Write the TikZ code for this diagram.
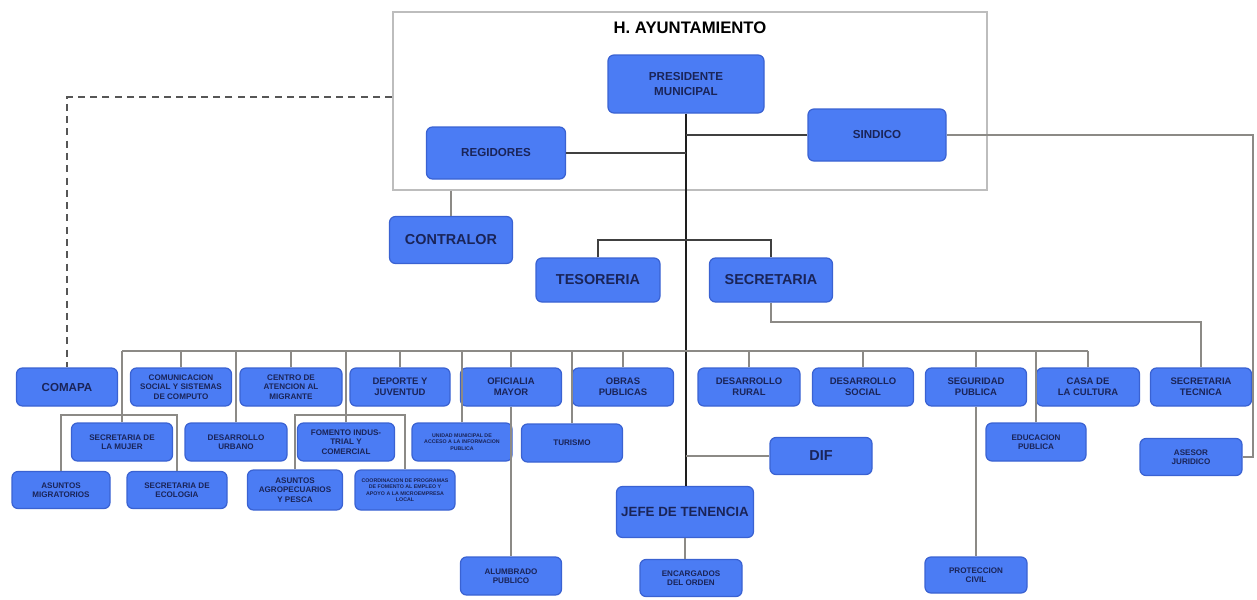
\documentclass[tikz,border=0pt]{standalone}
\usepackage{fontspec}
\setmainfont{Liberation Sans}
\usepackage{xcolor}
\definecolor{BoxBlue}{HTML}{4B7CF4}
\definecolor{BoxEdge}{HTML}{3A62D2}
\definecolor{LabelInk}{HTML}{1A2458}
\definecolor{Ink}{HTML}{1E1E1E}
\definecolor{LineGray}{HTML}{8C8A86}
\definecolor{FrameGray}{HTML}{BDBDBD}

\begin{document}
\begin{tikzpicture}[x=0.02cm,y=-0.02cm,
  unit/.style={draw=BoxEdge,fill=BoxBlue,rounded corners=3.4pt,line width=0.7pt,inner sep=1pt,align=center,text=LabelInk,font=\bfseries\fontsize{5.4}{6.2}\selectfont},
  big/.style={font=\bfseries\fontsize{8.2}{9.5}\selectfont},
  mid/.style={font=\bfseries\fontsize{6.6}{8}\selectfont},
  small/.style={font=\bfseries\fontsize{4.6}{5.3}\selectfont},
  tiny/.style={font=\bfseries\fontsize{3}{3.7}\selectfont},
  wh/.style 2 args={minimum width=#1*0.02cm,minimum height=#2*0.02cm},
  link/.style={LineGray,line width=0.7pt},
  trunk/.style={Ink!85,line width=1.1pt},
  spine/.style={Ink,line width=1.5pt},
  dashlink/.style={Ink!75,line width=1.4pt,dash pattern=on 4pt off 3pt}]
\useasboundingbox (0,0) rectangle (1257,599);

% H. Ayuntamiento
\node[draw=FrameGray,line width=0.8pt,wh={594}{178}] (ayto) at (690,101) {};
\node[font=\bfseries\fontsize{9.5}{11}\selectfont] (titulo) at (690,28) {H. AYUNTAMIENTO};
\node[unit,mid,wh={156}{58}] (pres) at (686,84) {PRESIDENTE\\MUNICIPAL};
\node[unit,mid,wh={138}{52}] (sind) at (877,135) {SINDICO};
\node[unit,mid,wh={139}{52}] (regi) at (496,153) {REGIDORES};
\node[unit,big,wh={123}{47}] (contr) at (451,240) {CONTRALOR};
\node[unit,big,wh={124}{44}] (teso) at (598,280) {TESORERIA};
\node[unit,big,wh={123}{44}] (secr) at (771,280) {SECRETARIA};

% direcciones
\node[unit,mid,wh={101}{38}] (comapa) at (67,387) {COMAPA};
\node[unit,small,wh={101}{38}] (comu) at (181,387) {COMUNICACION\\SOCIAL Y SISTEMAS\\DE COMPUTO};
\node[unit,small,wh={102}{38}] (cam) at (291,387) {CENTRO DE\\ATENCION AL\\MIGRANTE};
\node[unit,wh={100}{38}] (depo) at (400,387) {DEPORTE Y\\JUVENTUD};
\node[unit,wh={101}{38}] (ofic) at (511,387) {OFICIALIA\\MAYOR};
\node[unit,wh={101}{38}] (obras) at (623,387) {OBRAS\\PUBLICAS};
\node[unit,wh={102}{38}] (drur) at (749,387) {DESARROLLO\\RURAL};
\node[unit,wh={101}{38}] (dsoc) at (863,387) {DESARROLLO\\SOCIAL};
\node[unit,wh={101}{38}] (segu) at (976,387) {SEGURIDAD\\PUBLICA};
\node[unit,wh={103}{38}] (casa) at (1088,387) {CASA DE\\LA CULTURA};
\node[unit,wh={101}{38}] (stec) at (1201,387) {SECRETARIA\\TECNICA};

% segundo nivel
\node[unit,small,wh={101}{38}] (mujer) at (122,442) {SECRETARIA DE\\LA MUJER};
\node[unit,small,wh={102}{38}] (urbano) at (236,442) {DESARROLLO\\URBANO};
\node[unit,small,wh={97}{38}] (fomento) at (346,442) {FOMENTO INDUS-\\TRIAL Y\\COMERCIAL};
\node[unit,tiny,wh={100}{38}] (acceso) at (462,442) {UNIDAD MUNICIPAL DE\\ACCESO A LA INFORMACION\\PUBLICA};
\node[unit,small,wh={101}{38}] (turismo) at (572,443) {TURISMO};
\node[unit,small,wh={100}{38}] (educ) at (1036,442) {EDUCACION\\PUBLICA};
\node[unit,big,wh={102}{37}] (dif) at (821,456) {DIF};
\node[unit,small,wh={102}{37}] (asesor) at (1191,457) {ASESOR\\JURIDICO};

% tercer nivel
\node[unit,small,wh={98}{37}] (asuntos) at (61,490) {ASUNTOS\\MIGRATORIOS};
\node[unit,small,wh={100}{37}] (ecolo) at (177,490) {SECRETARIA DE\\ECOLOGIA};
\node[unit,small,wh={95}{40}] (agro) at (295,490) {ASUNTOS\\AGROPECUARIOS\\Y PESCA};
\node[unit,tiny,wh={100}{40}] (coord) at (405,490) {COORDINACION DE PROGRAMAS\\DE FOMENTO AL EMPLEO Y\\APOYO A LA MICROEMPRESA\\LOCAL};
\node[unit,big,font=\bfseries\fontsize{7.6}{9}\selectfont,wh={137}{51}] (jefe) at (685,512) {JEFE DE TENENCIA};
\node[unit,small,wh={101}{38}] (alumbrado) at (511,576) {ALUMBRADO\\PUBLICO};
\node[unit,small,wh={102}{37}] (enc) at (691,578) {ENCARGADOS\\DEL ORDEN};
\node[unit,small,wh={102}{36}] (prot) at (976,575) {PROTECCION\\CIVIL};

% puntos de paso
\coordinate (busL) at (122,351);
\coordinate (midY) at (0,415);
\coordinate (tsY) at (0,240);
\coordinate (stY) at (0,322);
\coordinate (dashY) at (0,97);
\coordinate (sjR) at (1253,0);

% lineas de mando
\draw[spine] (pres.south) -- (pres.south |- jefe.north);
\draw[trunk] (regi.east) -- (regi.east -| pres.south);
\draw[trunk] (sind.west) -- (sind.west -| pres.south);
\draw[trunk] (teso.north) |- (secr.north |- tsY) -- (secr.north);
\draw[link] (ayto.south -| contr.north) -- (contr.north);
\draw[dashlink] (ayto.west |- dashY) -| (comapa.north);

% bus de direcciones
\draw[link] (busL) -- (busL -| casa.north);
\foreach \n in {comu,cam,depo,ofic,obras,drur,dsoc,segu,casa}
  \draw[link] (\n.north) -- (\n.north |- busL);
\foreach \n in {mujer,urbano,fomento,acceso,turismo,educ}
  \draw[link] (\n.north) -- (\n.north |- busL);
\draw[link] (asuntos.north) |- (ecolo.north |- midY) -- (ecolo.north);
\draw[link] (agro.north) |- (coord.north |- midY) -- (coord.north);
\draw[link] (ofic.south) -- (alumbrado.north);
\draw[link] (segu.south) -- (prot.north);
\draw[link] (dif.west) -- (dif.west -| pres.south);
\draw[link] (jefe.south) -- (jefe.south |- enc.north);
\draw[link] (secr.south) |- (stec.north |- stY) -- (stec.north);
\draw[link] (sind.east) -- (sind.east -| sjR) |- (asesor.east);
\end{tikzpicture}
\end{document}
